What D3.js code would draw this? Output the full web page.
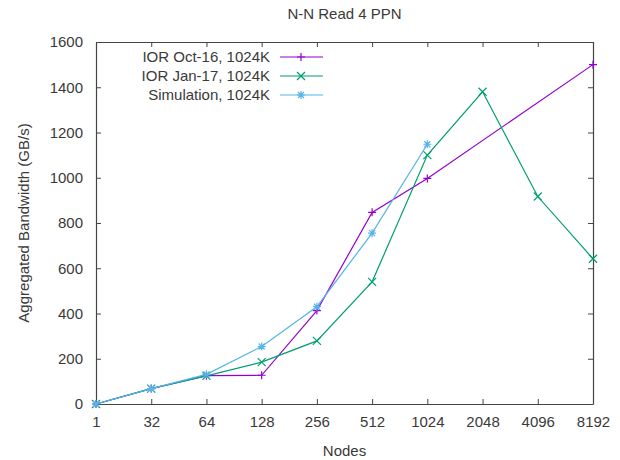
<!DOCTYPE html>
<html>
<head>
<meta charset="utf-8">
<script src="https://cdn.jsdelivr.net/npm/d3@7"></script>
<style>
  body { margin: 0; background: #fff; }
  text { font-family: "Liberation Sans", Arial, sans-serif; fill: #3a3a3a; }
</style>
</head>
<body>
<svg id="chart"></svg>
<script>
// node counts (categorical x axis)
var nodes = ["1", "32", "64", "128", "256", "512", "1024", "2048", "4096", "8192"];
var yTicks = [0, 200, 400, 600, 800, 1000, 1200, 1400, 1600];

// aggregated bandwidth, GB/s (null = no measurement)
var iorOct16 = [0, 68, 125, 127, 413, 847, 997, null, null, 1500];
var iorJan17 = [0, 68, 124, 185, 279, 540, 1100, 1380, 917, 642];
var simulation = [0, 68, 131, 254, 430, 755, 1148, null, null, null];

var seriesNames = ["IOR Oct-16, 1024K", "IOR Jan-17, 1024K", "Simulation, 1024K"];
var seriesColors = ["#9400d3", "#009e73", "#56b4e9"];
var seriesData = [iorOct16, iorJan17, simulation];
var seriesMarks = ["plus", "cross", "star"];

var w = 620, h = 460;
var padding = { top: 42, bottom: 56, left: 96, right: 27 };

var svg = d3.select("#chart").attr("width", w).attr("height", h);

var xScale = d3.scalePoint()
  .domain(nodes)
  .range([padding.left, w - padding.right]);

var yScale = d3.scaleLinear()
  .domain([0, 1600])
  .range([h - padding.bottom, padding.top]);

// axes on all four sides, ticks pointing inward
svg.append("g")
  .attr("class", "axis")
  .attr("transform", "translate(0," + (h - padding.bottom) + ")")
  .call(d3.axisBottom(xScale).tickSizeInner(-5).tickSizeOuter(0).tickPadding(12));
svg.append("g")
  .attr("class", "axis")
  .attr("transform", "translate(0," + padding.top + ")")
  .call(d3.axisTop(xScale).tickSizeInner(-5).tickSizeOuter(0).tickFormat(""));
svg.append("g")
  .attr("class", "axis")
  .attr("transform", "translate(" + padding.left + ",0)")
  .call(d3.axisLeft(yScale).tickValues(yTicks).tickFormat(d3.format("d"))
    .tickSizeInner(-5).tickSizeOuter(0).tickPadding(13));
svg.append("g")
  .attr("class", "axis")
  .attr("transform", "translate(" + (w - padding.right) + ",0)")
  .call(d3.axisRight(yScale).tickValues(yTicks).tickSizeInner(-5).tickSizeOuter(0).tickFormat(""));

svg.selectAll(".axis .domain").attr("stroke", "#444").attr("stroke-width", 1.2);
svg.selectAll(".axis line").attr("stroke", "#444");
svg.selectAll(".axis text")
  .attr("font-family", "Liberation Sans, Arial, sans-serif")
  .attr("font-size", 15)
  .attr("fill", "#3a3a3a");

function markPath(type, s) {
  if (type === "plus") {
    return "M" + (-s) + ",0H" + s + "M0," + (-s) + "V" + s;
  }
  if (type === "cross") {
    return "M" + (-s) + "," + (-s) + "L" + s + "," + s + "M" + (-s) + "," + s + "L" + s + "," + (-s);
  }
  return "M" + (-s) + ",0H" + s + "M0," + (-s) + "V" + s +
    "M" + (-s * 0.75) + "," + (-s * 0.75) + "L" + (s * 0.75) + "," + (s * 0.75) +
    "M" + (-s * 0.75) + "," + (s * 0.75) + "L" + (s * 0.75) + "," + (-s * 0.75);
}

seriesData.forEach(function(vals, k) {
  // connect points across missing values like gnuplot does
  var pts = [];
  vals.forEach(function(v, i) { if (v != null) pts.push([xScale(nodes[i]), yScale(v)]); });
  svg.append("path")
    .attr("d", d3.line()(pts))
    .attr("fill", "none")
    .attr("stroke", seriesColors[k])
    .attr("stroke-width", 1.2);
  svg.selectAll(".mk" + k)
    .data(pts)
    .enter()
    .append("path")
    .attr("class", "mk" + k)
    .attr("transform", function(d) { return "translate(" + d[0] + "," + d[1] + ")"; })
    .attr("d", markPath(seriesMarks[k], 4))
    .attr("fill", "none")
    .attr("stroke", seriesColors[k])
    .attr("stroke-width", 1.2);
});

// legend
seriesNames.forEach(function(name, k) {
  var ly = 57 + k * 19;
  svg.append("text")
    .text(name)
    .attr("x", 270)
    .attr("y", ly + 5)
    .attr("text-anchor", "end")
    .attr("font-size", 15);
  svg.append("line")
    .attr("x1", 280).attr("x2", 323)
    .attr("y1", ly).attr("y2", ly)
    .attr("stroke", seriesColors[k])
    .attr("stroke-width", 1.2);
  svg.append("path")
    .attr("transform", "translate(301," + ly + ")")
    .attr("d", markPath(seriesMarks[k], 4))
    .attr("fill", "none")
    .attr("stroke", seriesColors[k])
    .attr("stroke-width", 1.2);
});

// title and axis labels
svg.append("text")
  .text("N-N Read 4 PPN")
  .attr("x", (padding.left + w - padding.right) / 2)
  .attr("y", 19)
  .attr("text-anchor", "middle")
  .attr("font-size", 15);

svg.append("text")
  .text("Nodes")
  .attr("x", (padding.left + w - padding.right) / 2)
  .attr("y", 456)
  .attr("text-anchor", "middle")
  .attr("font-size", 15);

svg.append("text")
  .text("Aggregated Bandwidth (GB/s)")
  .attr("transform", "translate(29," + ((padding.top + h - padding.bottom) / 2) + ") rotate(-90)")
  .attr("text-anchor", "middle")
  .attr("font-size", 15);
</script>
</body>
</html>
